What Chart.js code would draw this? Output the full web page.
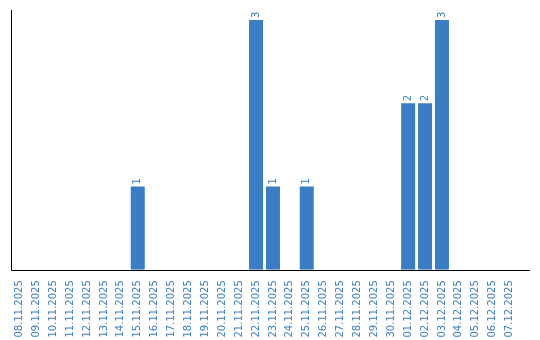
<!DOCTYPE html>
<html><head><meta charset="utf-8">
<script src="https://cdn.jsdelivr.net/npm/chart.js@4/dist/chart.umd.min.js"></script>
<style>html,body{margin:0;padding:0;background:#fff}#w{width:540px;height:340px}</style>
</head><body><div id="w"><canvas id="c"></canvas></div>
<script>
const categories = ["08.11.2025","09.11.2025","10.11.2025","11.11.2025","12.11.2025","13.11.2025","14.11.2025","15.11.2025","16.11.2025","17.11.2025","18.11.2025","19.11.2025","20.11.2025","21.11.2025","22.11.2025","23.11.2025","24.11.2025","25.11.2025","26.11.2025","27.11.2025","28.11.2025","29.11.2025","30.11.2025","01.12.2025","02.12.2025","03.12.2025","04.12.2025","05.12.2025","06.12.2025","07.12.2025"];
const counts = [0,0,0,0,0,0,0,1,0,0,0,0,0,0,3,1,0,1,0,0,0,0,0,2,2,3,0,0,0,0];
const blue = '#3b7dc2';
const labelPlugin = {
  id:'lbl',
  afterDatasetsDraw(chart){
    const ctx = chart.ctx;
    const meta = chart.getDatasetMeta(0);
    ctx.save();
    ctx.fillStyle = blue;
    ctx.font = '10px "DejaVu Sans", sans-serif';
    ctx.textAlign = 'left';
    ctx.textBaseline = 'middle';
    meta.data.forEach((bar,i)=>{
      const v = counts[i];
      if(!v) return;
      ctx.save();
      ctx.translate(bar.x, bar.y - 2);
      ctx.rotate(-Math.PI/2);
      ctx.fillText(String(v), 0, 0);
      ctx.restore();
    });
    const a = chart.chartArea;
    ctx.strokeStyle = '#000';
    ctx.lineWidth = 1;
    ctx.beginPath();
    ctx.moveTo(Math.round(a.left)+0.5, 10);
    ctx.lineTo(Math.round(a.left)+0.5, Math.round(a.bottom)+0.5);
    ctx.lineTo(530, Math.round(a.bottom)+0.5);
    ctx.stroke();
    ctx.restore();
  }
};
new Chart(document.getElementById('c'), {
  type:'bar',
  data:{labels:categories, datasets:[{data:counts, backgroundColor:blue, barPercentage:0.83, categoryPercentage:1}]},
  options:{
    responsive:true, maintainAspectRatio:false, animation:false,
    layout:{padding:{left:3, right:22, top:10, bottom:0}},
    plugins:{legend:{display:false}, tooltip:{enabled:false}},
    scales:{
      x:{grid:{display:false}, border:{display:false},
         ticks:{color:blue, font:{size:10, family:'"DejaVu Sans", sans-serif'}, minRotation:90, maxRotation:90, autoSkip:false, padding:2.5}},
      y:{min:0, max:3.12, display:true, grid:{display:false}, border:{display:false}, ticks:{display:false}}
    }
  },
  plugins:[labelPlugin]
});
</script></body></html>
